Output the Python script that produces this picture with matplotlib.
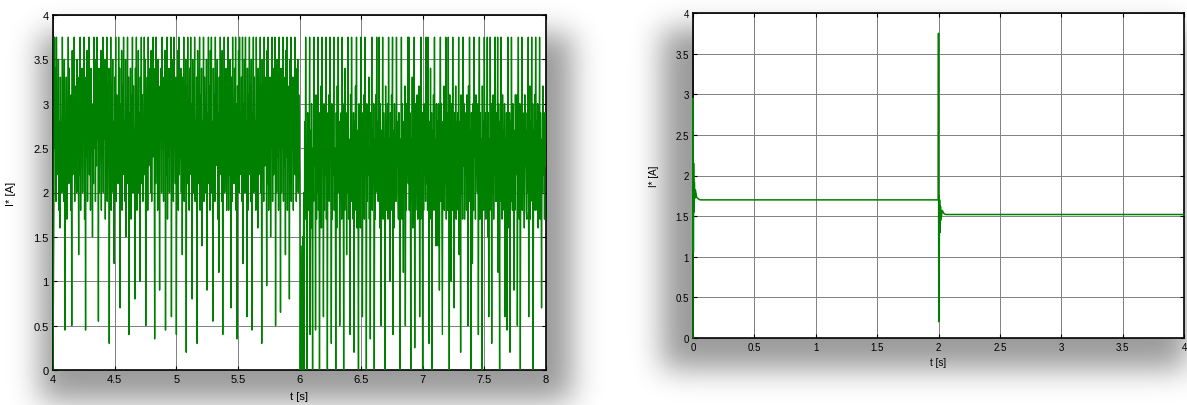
import numpy as np
import matplotlib
matplotlib.use('Agg')
import matplotlib.pyplot as plt

plt.rcParams['font.family'] = ['Liberation Sans', 'DejaVu Sans']

# left chart: current reference I* between t = 4 s and 8 s
i_left_a = [  # 4 s .. 6 s
    0.0, 1.1, 2.0, 3.75, 2.5, 3.4, 1.9, 3.75, 2.6, 3.0, 2.2, 3.5, 1.8, 2.8, 1.6, 3.3, 2.4, 2.7, 2.0, 3.75,
    2.6, 3.2, 1.9, 3.5, 0.45, 2.8, 2.3, 3.3, 1.7, 3.0, 2.5, 3.75, 2.1, 3.4, 2.6, 2.9, 1.8, 3.1, 0.5, 3.6,
    2.2, 2.8, 2.5, 3.75, 1.9, 3.2, 2.6, 2.7, 2.0, 3.5, 2.4, 3.0, 1.3, 3.3, 2.2, 3.75, 1.8, 2.9, 2.5, 3.4,
    2.0, 3.1, 2.6, 3.75, 1.7, 2.8, 0.45, 3.3, 2.4, 3.6, 1.9, 2.7, 2.5, 3.75, 2.2, 3.2, 1.8, 3.4, 2.6, 2.8,
    1.5, 3.0, 2.1, 3.75, 2.5, 3.5, 1.9, 2.9, 2.3, 3.75, 2.6, 3.2, 0.55, 3.4, 2.0, 2.7, 2.5, 3.6, 1.8, 3.1,
    2.4, 3.75, 2.0, 3.3, 2.6, 3.5, 1.7, 2.8, 2.2, 3.75, 1.9, 3.0, 2.5, 3.4, 0.3, 2.9, 2.3, 3.75, 1.8, 3.2,
    2.6, 3.5, 2.0, 2.8, 1.2, 3.3, 2.4, 3.75, 1.9, 3.1, 2.5, 2.7, 2.1, 3.75, 2.6, 3.4, 0.7, 3.0, 2.2, 3.6,
    1.8, 3.2, 2.5, 3.75, 2.2, 2.8, 1.9, 3.5, 1.5, 3.0, 2.6, 3.75, 2.1, 3.3, 0.4, 2.9, 2.4, 3.4, 1.7, 3.1,
    2.5, 3.75, 2.0, 3.2, 2.6, 2.7, 0.8, 3.4, 2.2, 3.75, 1.8, 3.0, 2.4, 3.6, 2.0, 2.9, 1.0, 3.3, 2.6, 3.75,
    2.1, 3.1, 1.9, 2.8, 2.5, 3.75, 2.2, 3.5, 0.5, 3.0, 2.6, 3.3, 1.8, 3.75, 2.3, 2.8, 2.5, 3.4, 2.0, 3.6,
    1.9, 3.2, 2.4, 3.75, 2.6, 2.9, 0.35, 3.4, 2.1, 3.75, 2.5, 3.0, 1.8, 3.5, 2.3, 2.8, 0.9, 3.2, 2.6, 3.4,
    2.0, 3.75, 2.5, 2.9, 1.9, 3.3, 2.6, 3.6, 0.45, 3.1, 2.2, 3.75, 1.7, 2.8, 2.4, 3.4, 2.0, 3.0, 2.6, 3.75,
    0.6, 3.2, 2.3, 3.5, 1.9, 3.75, 2.5, 2.9, 2.1, 3.3, 0.4, 3.0, 2.6, 3.6, 1.8, 3.75, 2.2, 2.8, 2.4, 3.4,
    2.0, 3.1, 1.3, 3.3, 2.5, 3.75, 1.9, 2.9, 2.6, 3.5, 0.2, 3.2, 2.1, 3.75, 2.4, 2.8, 1.8, 3.4, 2.5, 3.75,
    2.2, 3.0, 0.8, 3.5, 2.0, 3.2, 2.6, 3.75, 1.9, 2.8, 2.4, 3.3, 0.3, 3.6, 2.1, 2.9, 2.5, 3.75, 1.8, 3.1,
    2.6, 3.4, 1.4, 2.8, 2.2, 3.75, 1.9, 3.3, 2.5, 3.0, 2.0, 3.5, 0.9, 2.9, 2.6, 3.75, 2.1, 3.2, 1.8, 3.6,
    2.4, 3.75, 2.0, 2.8, 0.55, 3.4, 2.6, 3.1, 1.9, 3.75, 2.3, 3.0, 2.5, 3.5, 1.7, 2.9, 1.1, 3.3, 2.2, 3.75,
    2.6, 3.1, 1.9, 3.6, 0.4, 2.8, 2.4, 3.75, 2.0, 3.2, 2.5, 3.4, 1.8, 2.9, 2.6, 3.75, 1.8, 3.0, 2.2, 3.5,
    2.5, 0.7, 3.3, 1.9, 3.75, 2.4, 2.8, 2.1, 3.4, 2.6, 3.75, 1.8, 3.0, 0.35, 3.2, 2.3, 3.6, 2.0, 3.75, 2.5,
    2.9, 2.2, 3.3, 1.9, 3.75, 1.2, 3.0, 2.6, 3.5, 2.0, 3.75, 2.4, 2.8, 0.6, 3.4, 1.8, 3.1, 2.5, 3.75, 2.2,
    3.2, 1.9, 3.5, 0.45, 2.9, 2.5, 3.75, 2.0, 3.3, 2.4, 2.8, 1.8, 3.75, 2.6, 3.1, 1.6, 3.4, 2.2, 2.9, 2.5,
    3.75, 2.0, 3.2, 0.3, 3.5, 2.5, 2.8, 1.9, 3.75, 2.3, 3.3, 2.6, 3.0, 0.95, 3.6, 2.1, 3.75, 1.8, 2.9, 2.4,
    3.3, 1.5, 3.0, 2.5, 3.75, 1.9, 3.4, 2.2, 2.8, 2.6, 3.75, 0.5, 3.2, 2.0, 3.5, 2.4, 2.9, 1.8, 3.75, 2.5,
    3.1, 0.65, 3.4, 2.0, 2.8, 2.5, 3.75, 1.9, 3.3, 2.3, 3.0, 1.3, 3.6, 2.4, 3.75, 1.8, 2.9, 2.6, 3.2, 0.8,
    3.5, 2.1, 3.75, 1.9, 3.0, 2.5, 3.3, 1.8, 2.9, 2.6, 3.75, 2.2, 3.4, 1.9, 2.8, 2.5, 3.5, 2.0, 3.1, 2.4,
]
i_left_b = [  # 6 s .. 8 s
    2.2, 0.0, 1.4, 0.6, 1.1, 0.0, 1.5, 0.8, 2.0, 0.0, 2.8, 1.7, 3.75, 2.3, 2.5, 0.0, 2.9, 1.8, 2.6, 2.1,
    3.75, 0.4, 2.7, 1.6, 3.0, 2.2, 0.0, 2.5, 1.9, 3.75, 2.3, 2.8, 0.45, 3.1, 1.7, 2.6, 2.0, 3.75, 1.8, 2.9,
    0.0, 2.4, 2.1, 3.2, 1.6, 3.75, 2.3, 2.7, 0.6, 3.0, 1.8, 2.5, 2.2, 3.75, 1.7, 2.9, 0.0, 2.8, 2.0, 3.1,
    1.9, 3.75, 2.4, 2.6, 0.3, 3.0, 1.7, 2.8, 2.2, 3.75, 1.8, 2.5, 2.3, 0.0, 2.9, 1.6, 3.2, 2.0, 3.75, 2.2,
    2.8, 0.5, 2.5, 1.9, 2.9, 1.7, 3.75, 2.3, 2.6, 0.0, 3.0, 1.8, 3.4, 2.2, 2.7, 1.3, 2.9, 2.0, 3.75, 1.7,
    2.6, 2.2, 0.4, 3.1, 1.9, 3.75, 2.3, 2.5, 1.7, 2.9, 0.2, 2.8, 2.1, 3.2, 1.8, 3.75, 1.6, 2.7, 2.3, 0.0,
    3.0, 1.8, 2.6, 1.6, 3.75, 2.2, 2.9, 0.6, 2.7, 1.9, 3.1, 1.7, 3.75, 2.4, 2.5, 0.0, 3.0, 1.9, 2.8, 2.2,
    3.3, 1.7, 2.5, 0.35, 2.9, 2.3, 3.75, 1.8, 2.7, 2.1, 3.0, 0.0, 2.6, 1.7, 3.1, 2.2, 3.75, 2.0, 2.8, 1.9,
    2.5, 3.75, 1.6, 3.0, 2.2, 0.5, 2.7, 1.9, 3.75, 1.7, 2.9, 2.3, 2.6, 0.0, 3.2, 1.8, 2.8, 2.1, 3.0, 1.7,
    3.75, 2.3, 2.6, 1.0, 2.9, 1.8, 3.1, 2.2, 3.75, 0.4, 2.7, 1.6, 3.0, 2.1, 2.6, 1.9, 3.75, 2.3, 2.8, 2.0,
    1.7, 2.9, 2.2, 0.0, 2.6, 1.9, 3.75, 1.7, 3.0, 2.3, 1.1, 2.8, 2.0, 3.2, 0.5, 2.7, 1.8, 3.0, 2.2, 3.75,
    2.1, 3.75, 1.8, 2.9, 2.3, 0.0, 2.6, 1.9, 3.3, 1.6, 2.8, 2.2, 3.75, 0.25, 3.0, 1.8, 2.6, 2.3, 3.1, 1.7,
    2.8, 2.0, 3.2, 0.6, 2.6, 1.7, 3.75, 2.3, 2.9, 0.0, 2.7, 1.8, 3.0, 2.2, 2.5, 1.9, 3.75, 2.1, 2.9, 1.8,
    3.75, 2.2, 0.3, 2.8, 1.9, 3.4, 1.7, 2.9, 0.0, 2.7, 2.3, 3.1, 1.8, 3.75, 2.0, 2.6, 1.4, 3.0, 2.2, 2.8,
    1.4, 3.0, 2.1, 0.9, 2.7, 3.75, 1.9, 3.0, 1.7, 0.4, 2.8, 2.3, 3.2, 1.8, 2.6, 2.1, 3.75, 1.7, 2.9, 2.3,
    1.8, 3.75, 2.2, 0.0, 3.1, 1.9, 2.7, 1.0, 3.0, 1.8, 3.75, 2.4, 2.6, 0.7, 2.9, 2.0, 3.2, 1.7, 2.8, 2.3,
    2.9, 1.8, 3.75, 1.3, 2.8, 2.2, 0.2, 3.1, 2.0, 2.7, 1.7, 3.75, 2.3, 3.0, 1.7, 2.6, 2.2, 2.9, 1.8, 3.1,
    2.4, 0.5, 3.2, 1.9, 3.75, 2.3, 2.7, 0.0, 2.9, 2.1, 1.2, 3.0, 1.8, 3.75, 2.4, 2.8, 1.7, 3.1, 2.2, 2.6,
    2.0, 3.0, 0.4, 2.7, 3.75, 1.7, 2.9, 2.2, 2.6, 0.0, 3.2, 2.0, 2.8, 1.8, 3.75, 2.3, 2.9, 1.7, 2.7, 2.1,
    3.75, 1.5, 2.9, 0.6, 2.6, 1.8, 3.75, 2.3, 3.0, 0.3, 2.8, 2.0, 3.1, 1.7, 2.7, 2.2, 3.75, 1.9, 2.9, 2.2,
    1.9, 3.75, 1.1, 3.0, 2.2, 0.0, 2.8, 1.9, 3.75, 2.4, 1.7, 3.1, 2.0, 2.7, 1.8, 3.0, 0.6, 2.6, 2.3, 2.9,
    0.45, 2.6, 3.75, 2.0, 1.6, 2.9, 0.2, 2.8, 1.9, 3.75, 2.3, 1.8, 3.0, 2.1, 0.9, 2.7, 1.8, 3.1, 2.2, 2.8,
    3.1, 0.5, 2.7, 3.75, 1.9, 1.7, 3.0, 0.0, 2.8, 2.2, 3.75, 1.8, 2.9, 2.0, 2.6, 1.6, 3.1, 2.3, 2.7, 1.8,
    1.7, 2.9, 2.0, 3.75, 0.6, 2.7, 3.2, 1.7, 2.8, 2.2, 3.75, 1.9, 3.0, 0.0, 2.7, 2.1, 3.1, 1.8, 3.75, 2.2,
    2.8, 1.8, 3.0, 1.6, 2.7, 2.3, 3.75, 1.7, 2.9, 2.3, 0.7, 2.6, 2.0, 3.2, 2.2, 2.8, 1.7, 2.9, 2.3, 2.6,
]
i_left = i_left_a + i_left_b
t_left = np.linspace(4, 8, len(i_left))

# right chart: start-up transient and step at t = 2 s
t_right = [0.0, 0.001, 0.003, 0.005, 0.008, 0.011, 0.015, 0.02, 0.03, 0.045, 0.06,
           1.998, 2.0, 2.002, 2.004, 2.006, 2.009, 2.012, 2.016, 2.02, 2.03, 2.045, 2.06, 4.0]
i_right = [0.0, 2.95, 1.05, 2.15, 1.55, 1.92, 1.72, 1.82, 1.73, 1.71, 1.70,
           1.70, 3.75, 0.2, 1.75, 1.07, 1.7, 1.3, 1.62, 1.45, 1.57, 1.53, 1.52, 1.52]

y_ticks = [0, 0.5, 1, 1.5, 2, 2.5, 3, 3.5, 4]
x_ticks_left = [4, 4.5, 5, 5.5, 6, 6.5, 7, 7.5, 8]
x_ticks_right = [0, 0.5, 1, 1.5, 2, 2.5, 3, 3.5, 4]

W, H = 1187, 406
fig = plt.figure(figsize=(W / 100, H / 100), dpi=100)


def px_box(l, t, r, b):
    return [l / W, 1 - b / H, (r - l) / W, (b - t) / H]


# blurred drop shadow behind both plots
bg = fig.add_axes([0, 0, 1, 1], zorder=-5)
bg.axis('off')
shade = np.zeros((H, W))
for l, t, r, b in [(40, 35, 572, 402), (662, 30, 1205, 370)]:
    shade[t:b, l:r] = 1
k = np.exp(-0.5 * (np.arange(-45, 46) / 15.0) ** 2)
k /= k.sum()
shade = np.apply_along_axis(lambda v: np.convolve(v, k, mode='same'), 0, shade)
shade = np.apply_along_axis(lambda v: np.convolve(v, k, mode='same'), 1, shade)
bg.imshow(1 - 0.40 * shade, cmap='gray', vmin=0, vmax=1,
          extent=[0, W, H, 0], aspect='auto', interpolation='bilinear')


def style(ax, xt, fs):
    ax.set_facecolor('white')
    ax.set_xticks(xt)
    ax.set_xticklabels([f'{v:g}' for v in xt], fontsize=fs)
    ax.set_yticks(y_ticks)
    ax.set_yticklabels([f'{v:g}' for v in y_ticks], fontsize=fs)
    ax.set_xlim(xt[0], xt[-1])
    ax.set_ylim(0, 4)
    ax.grid(True, color='0.5', lw=0.7)
    ax.tick_params(direction='in', top=True, right=True, length=3, width=0.8, pad=3)
    for s in ax.spines.values():
        s.set_linewidth(1.2)
    ax.set_xlabel('t [s]', fontsize=fs)
    ax.set_ylabel('I* [A]', fontsize=fs)


ax1 = fig.add_axes(px_box(53, 16, 546, 371))
ax1.plot(t_left, i_left, color='#008000', lw=1.0, zorder=3)
style(ax1, x_ticks_left, 8)
ax1.xaxis.set_label_coords(0.5, -0.06)
ax1.yaxis.set_label_coords(-0.075, 0.5)

ax2 = fig.add_axes(px_box(693, 14, 1184, 339))
ax2.plot(t_right, i_right, color='#008000', lw=1.1, zorder=3, clip_on=False)
style(ax2, x_ticks_right, 7)
ax2.xaxis.set_label_coords(0.5, -0.06)
ax2.yaxis.set_label_coords(-0.07, 0.5)

fig.savefig('out.png', dpi=100)
